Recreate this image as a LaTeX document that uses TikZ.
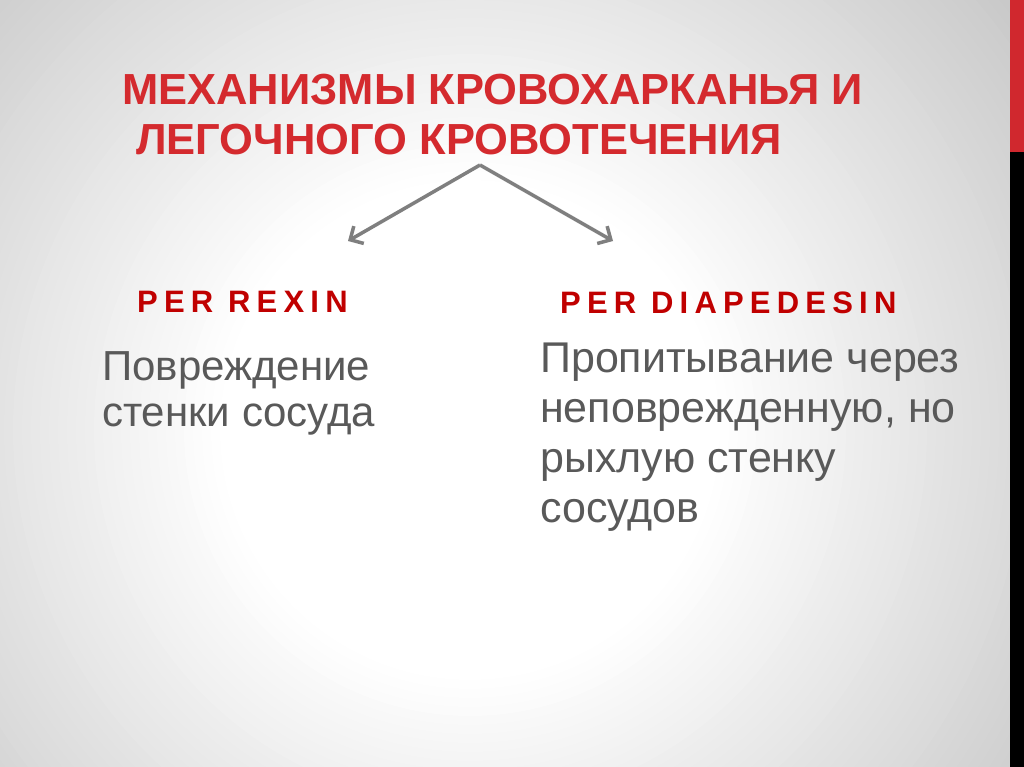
\documentclass[tikz,border=0pt]{standalone}
\usepackage{fontspec}
\setmainfont{Liberation Sans}
\usetikzlibrary{arrows.meta}
\definecolor{titlered}{HTML}{D42A2E}
\definecolor{perred}{HTML}{C00000}
\definecolor{bodygray}{HTML}{595959}
\definecolor{arrowgray}{HTML}{7F7F7F}
\definecolor{bggray}{HTML}{C8C8C8}
\definecolor{stripred}{HTML}{D0282E}
\newfontfamily\perfont[LetterSpace=20]{Liberation Sans}
\tikzset{
  titletext/.style={anchor=base west, inner sep=0pt, text=titlered, font=\fontsize{43.5}{50}\selectfont\bfseries},
  pertext/.style={anchor=base west, inner sep=0pt, text=perred, font=\perfont\fontsize{31}{36}\selectfont\bfseries},
  bodyleft/.style={anchor=base west, inner sep=0pt, text=bodygray, font=\fontsize{42}{46}\selectfont},
  bodyright/.style={anchor=base west, inner sep=0pt, text=bodygray, font=\fontsize{43}{50}\selectfont},
  branch/.style={draw=arrowgray, line width=3.5pt, -{Straight Barb[length=10pt,width=20pt]}}
}
\begin{document}
\begin{tikzpicture}[x=1pt,y=-1pt]
\useasboundingbox (0,0) rectangle (1024,767);
\fill[bggray] (0,0) rectangle (1024,767);
\begin{scope}
\clip (0,0) rectangle (1010,767);
\foreach \i in {0,...,50}{
  \pgfmathsetmacro{\r}{700-\i*9}
  \pgfmathsetmacro{\c}{\i*2}
  \fill[white!\c!bggray] (470,430) circle (\r);
}
\end{scope}
\fill[stripred] (1010,0) rectangle (1024,152);
\fill[black] (1010,152) rectangle (1024,767);
\node[titletext] (t1) at (122,105) {МЕХАНИЗМЫ КРОВОХАРКАНЬЯ И};
\node[titletext] (t2) at (136,155) {ЛЕГОЧНОГО КРОВОТЕЧЕНИЯ};
\coordinate (apex) at (480,165);
\coordinate (lt) at (348,241);
\coordinate (rt) at (613,241);
\draw[branch] (apex) -- (lt);
\draw[branch] (apex) -- (rt);
\node[pertext] (p1) at (137,312) {PER REXIN};
\node[pertext] (p2) at (560,313) {PER DIAPEDESIN};
\node[bodyleft] (l1) at (102,380) {Повреждение};
\node[bodyleft] (l2) at (102,426) {стенки сосуда};
\node[bodyright] (r1) at (540,372) {Пропитывание через};
\node[bodyright] (r2) at (540,422) {неповрежденную, но};
\node[bodyright] (r3) at (540,472) {рыхлую стенку};
\node[bodyright] (r4) at (540,522) {сосудов};
\end{tikzpicture}
\end{document}
